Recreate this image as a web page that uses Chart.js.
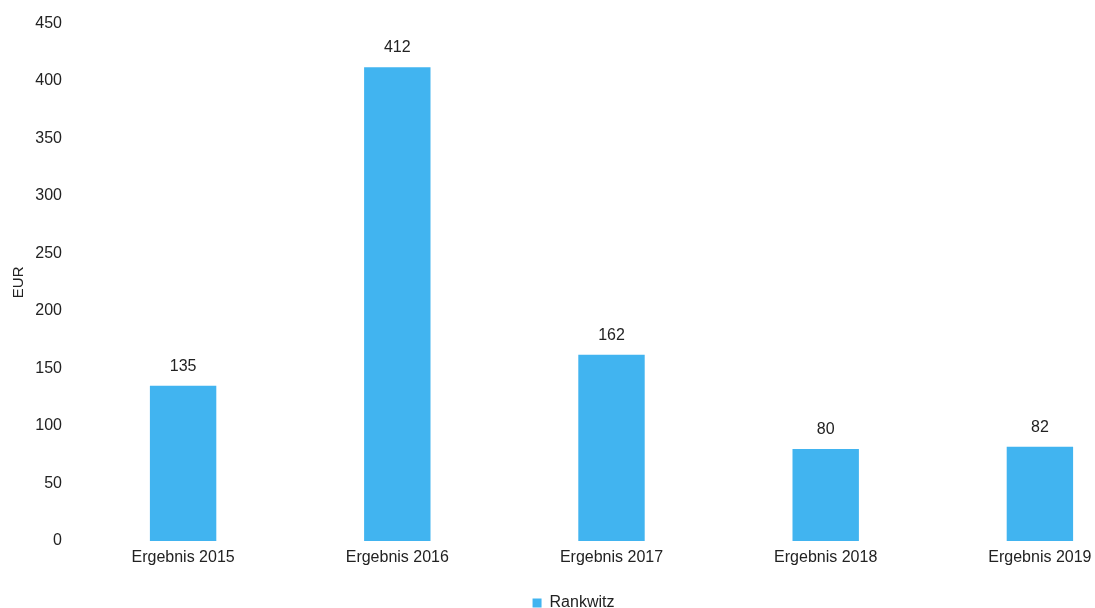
<!DOCTYPE html>
<html><head><meta charset="utf-8">
<script src="https://cdn.jsdelivr.net/npm/chart.js@4/dist/chart.umd.min.js"></script>
<style>html,body{margin:0;padding:0;background:#fff;overflow:hidden;width:1095px;height:608px}
#wrap{width:1160px;height:624px;position:relative}</style>
</head><body><div id="wrap"><canvas id="c"></canvas></div>
<script>
const categories = ["Ergebnis 2015","Ergebnis 2016","Ergebnis 2017","Ergebnis 2018","Ergebnis 2019"];
const seriesName = "Rankwitz";
const values = [135, 412, 162, 80, 82];
const yTicks = [0,50,100,150,200,250,300,350,400,450];
const barColor = "#41b4f0";
const FONT = "'Liberation Sans', Arial, sans-serif";

const labelPlugin = {
  id: 'vals',
  afterDatasetsDraw(chart){
    const ctx = chart.ctx;
    const meta = chart.getDatasetMeta(0);
    ctx.save();
    ctx.font = "16px " + FONT;
    ctx.fillStyle = "#222";
    ctx.textAlign = "center";
    ctx.textBaseline = "alphabetic";
    meta.data.forEach((bar,i)=>{
      ctx.fillText(String(values[i]), bar.x, bar.y - 15);
    });
    ctx.restore();
  }
};

new Chart(document.getElementById('c'), {
  type: 'bar',
  data: { labels: categories, datasets: [{ label: seriesName, data: values, backgroundColor: barColor, categoryPercentage: 1, barPercentage: 0.31 }] },
  options: {
    responsive: true, maintainAspectRatio: false, animation: false,
    layout: { padding: { top: 20, right: 13, left: 0, bottom: 3 } },
    plugins: {
      legend: { position: 'bottom', labels: { boxWidth: 9, boxHeight: 9, padding: 8, color: '#222', font: { family: FONT, size: 16 } } },
      tooltip: { enabled: false }
    },
    scales: {
      x: {
        grid: { display: false, drawTicks: false }, border: { display: false },
        ticks: { color: '#222', font: { family: FONT, size: 16 }, padding: 7 },
        afterFit(s){ s.height = 46; }
      },
      y: {
        min: 0, max: 450,
        grid: { display: false, drawTicks: false }, border: { display: false },
        afterBuildTicks(s){ s.ticks = yTicks.map(v=>({value:v})); },
        ticks: { color: '#222', font: { family: FONT, size: 16 }, padding: 14 },
        title: { display: true, text: 'EUR', color: '#222', font: { family: FONT, size: 15 }, padding: { top: 10, bottom: 4 } },
        afterFit(s){ s.width = 76; }
      }
    }
  },
  plugins: [labelPlugin]
});
</script></body></html>
